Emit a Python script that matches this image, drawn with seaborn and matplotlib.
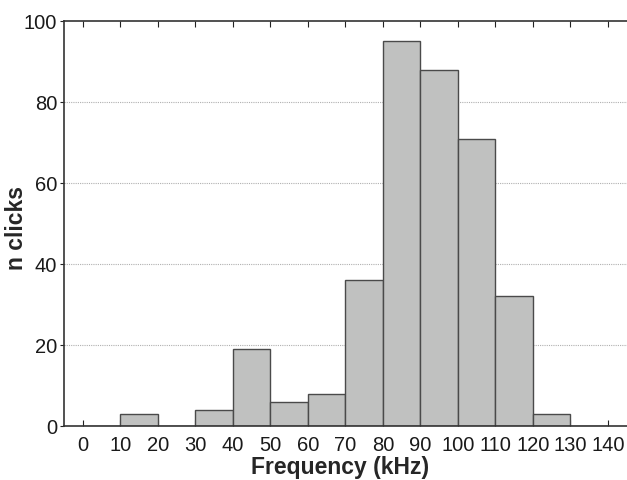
import numpy as np
import pandas as pd
import seaborn as sns
import matplotlib.pyplot as plt

bin_edges = [0, 10, 20, 30, 40, 50, 60, 70, 80, 90, 100, 110, 120, 130, 140]
counts = [0, 3, 0, 4, 19, 6, 8, 36, 95, 88, 71, 32, 3, 0]
x_ticks = [0, 10, 20, 30, 40, 50, 60, 70, 80, 90, 100, 110, 120, 130, 140]
y_ticks = [0, 20, 40, 60, 80, 100]

df = pd.DataFrame({
    "freq": [(a + b) / 2 for a, b in zip(bin_edges[:-1], bin_edges[1:])],
    "n": counts,
})

sns.set_style("ticks")
plt.rcParams['font.family'] = ['Liberation Sans', 'DejaVu Sans']

fig = plt.figure(figsize=(6.27, 4.8), dpi=100)
ax = fig.add_axes([0.102, 0.1125, 0.8975, 0.8435])

for y in y_ticks[1:-1]:
    ax.axhline(y, color='#b0b0b0', lw=0.8, ls=(0, (1, 1)), zorder=0)

sns.histplot(data=df, x="freq", weights="n", bins=bin_edges, ax=ax,
             color='#c0c1c0', edgecolor='#4a4a4a', linewidth=1.0, alpha=1)

ax.set_xlim(-5, 145)
ax.set_ylim(0, 100)
ax.set_xticks(x_ticks)
ax.set_yticks(y_ticks)
ax.tick_params(axis='both', labelsize=14.5, colors='#222222', direction='in',
               length=4, top=True, labelcolor='#1a1a1a')
ax.tick_params(axis='x', pad=7)
ax.tick_params(axis='y', direction='out', length=3, pad=2)
for s in ['left', 'bottom', 'top']:
    ax.spines[s].set_color('#333333')
    ax.spines[s].set_linewidth(1.2)
ax.spines['right'].set_visible(False)

ax.set_xlabel("Frequency (kHz)", fontsize=16.5, fontweight='bold')
ax.set_ylabel("n clicks", fontsize=16.5, fontweight='bold')
ax.xaxis.set_label_coords(0.49, -0.074)
ax.yaxis.set_label_coords(-0.064, 0.49)

plt.savefig("out.png", dpi=100)
